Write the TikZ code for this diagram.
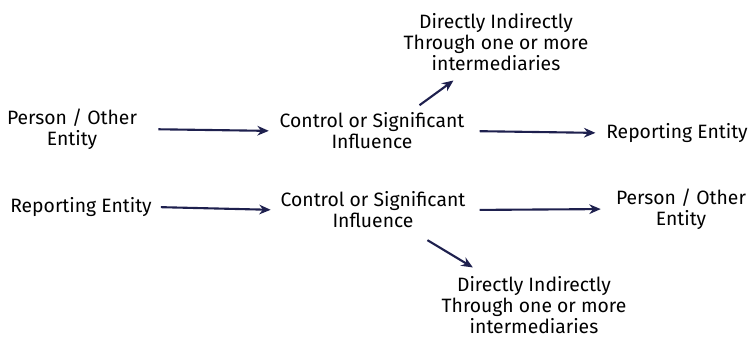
\documentclass[tikz,border=0pt]{standalone}
\usepackage{fontspec}
\setmainfont{Fira Sans}
\usepackage{tikz}
\usetikzlibrary{arrows.meta}
\definecolor{navyarrow}{RGB}{30,32,78}

\begin{document}
\begin{tikzpicture}[x=0.02cm, y=-0.02cm,
  lbl/.style = {align=center, font=\fontsize{11}{12}\selectfont, inner sep=1pt},
  arr/.style = {draw=navyarrow, line width=1.2pt, -{Stealth[length=6.5pt,width=5.5pt]}}]

\useasboundingbox (0,0) rectangle (750,337);

\node (pe1) at (72,129) [lbl]{Person / Other\\Entity};
\node (cs1) at (372,131) [lbl]{Control or Significant\\Influence};
\node (di1) at (496,42) [lbl]{Directly Indirectly\\Through one or more\\intermediaries};
\node (re1) at (677,133) [lbl]{Reporting Entity};

\node (re2) at (81,207) [lbl]{Reporting Entity};
\node (cs2) at (373,210) [lbl]{Control or Significant\\Influence};
\node (pe2) at (681,209) [lbl]{Person / Other\\Entity};
\node (di2) at (534,305) [lbl]{Directly Indirectly\\Through one or more\\intermediaries};

\draw[arr, shorten <=11pt, shorten >=5pt] (pe1.east) -- (cs1.west);
\draw[arr, shorten <=7.5pt, shorten >=5pt] (cs1.east) -- (re1.west);
\draw[arr, shorten <=5.3pt, shorten >=7.4pt] ([xshift=0.8cm]cs1.north) -- ([xshift=-0.64cm]di1.south);

\draw[arr, shorten <=4pt, shorten >=4.5pt] (re2.east) -- (cs2.west);
\draw[arr, shorten <=7pt, shorten >=7.5pt] (cs2.east) -- (pe2.west);
\draw[arr, shorten <=10.9pt, shorten >=7.4pt] ([xshift=0.76cm]cs2.south) -- ([xshift=-1cm]di2.north);

\end{tikzpicture}
\end{document}
